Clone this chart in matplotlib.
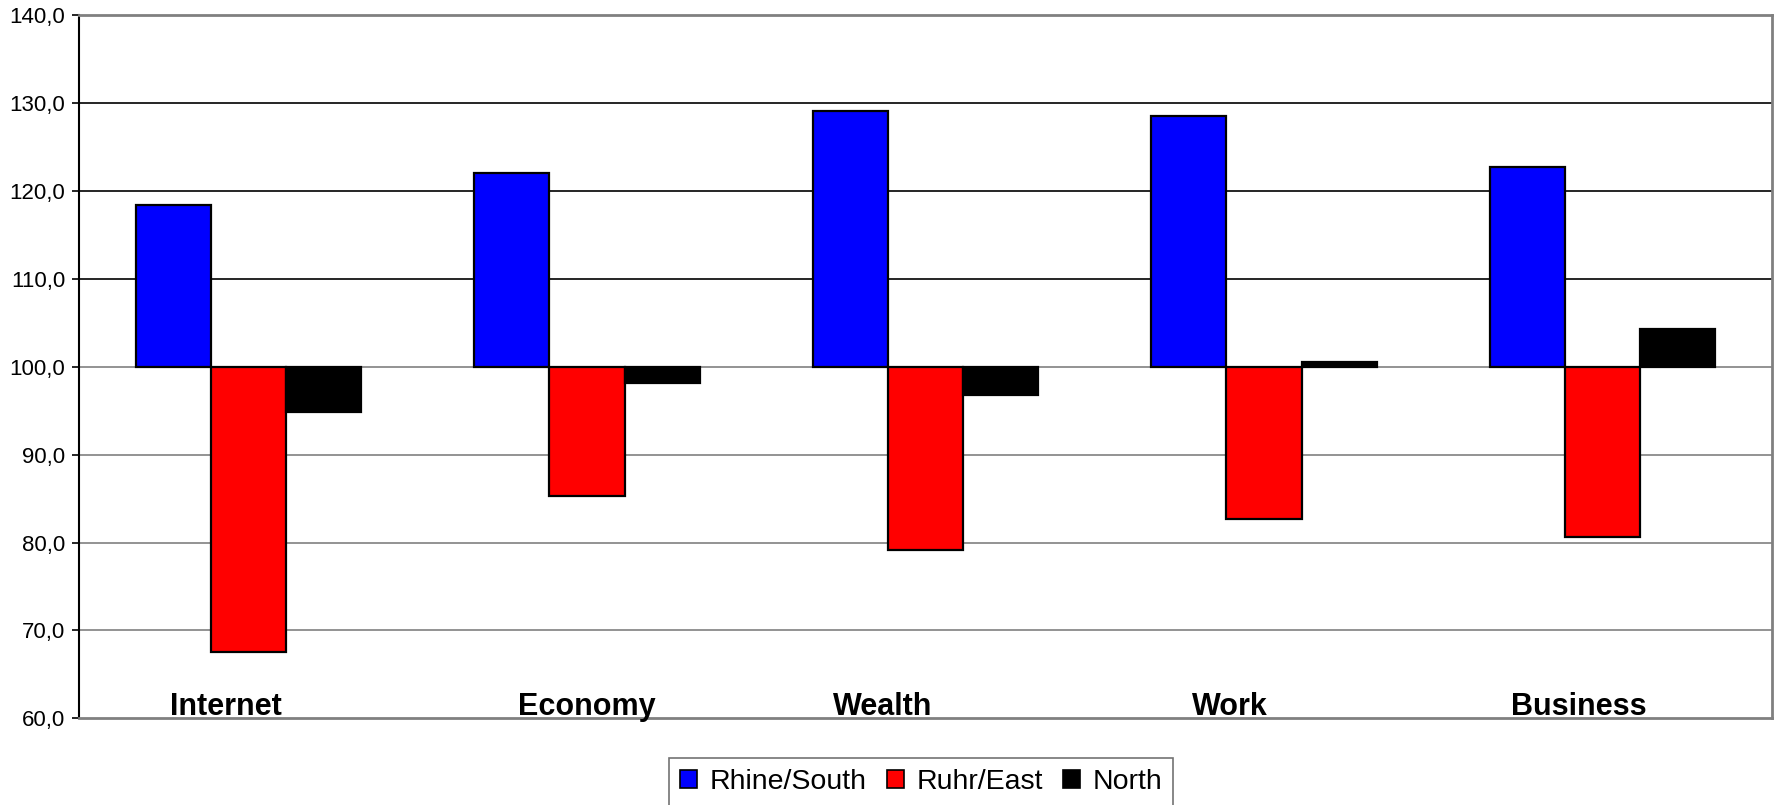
import matplotlib
matplotlib.use("Agg")
import matplotlib.pyplot as plt
from matplotlib.patches import Patch
from matplotlib.ticker import FuncFormatter, MultipleLocator

# --- data -------------------------------------------------------------
categories = ["Internet", "Economy", "Wealth", "Work", "Business"]
series_names = ["Rhine/South", "Ruhr/East", "North"]
rhine_south = [118.4, 122.0, 129.1, 128.5, 122.7]
ruhr_east = [67.6, 85.3, 79.1, 82.7, 80.6]
north = [94.8, 98.1, 96.8, 100.5, 104.3]
baseline = 100.0

# --- styling / layout -------------------------------------------------
colors = ["#0000FF", "#FF0000", "#000000"]
label_shift = [-0.066, 0.0, -0.126, -0.102, -0.070]   # category label nudges
bar_w = 1.0 / 4.5                                      # 150 % gap width

plt.rcParams["font.family"] = ["Liberation Sans", "DejaVu Sans"]

fig = plt.figure(figsize=(17.77, 8.05), dpi=100)
ax = fig.add_axes([0.0446, 0.1077, 0.9524, 0.8733])

ax.set_xlim(-0.5, len(categories) - 0.5)
ax.set_ylim(60, 140)

# gridlines: dark above the baseline, grey from the baseline down
for v in range(70, 140, 10):
    col = "#000000" if v > baseline else "#808080"
    ax.axhline(v, color=col, lw=1.2, zorder=1)

series = [rhine_south, ruhr_east, north]
for j, vals in enumerate(series):
    xs = [i + (j - 1) * bar_w for i in range(len(categories))]
    heights = [v - baseline for v in vals]
    ax.bar(xs, heights, width=bar_w, bottom=baseline, color=colors[j],
           edgecolor="#000000", linewidth=1.6, zorder=3)

for i, name in enumerate(categories):
    ax.text(i + label_shift[i], 60.4, name, ha="center", va="baseline",
            fontsize=22, fontweight="bold", color="#000000", zorder=4)

ax.yaxis.set_major_locator(MultipleLocator(10))
ax.yaxis.set_major_formatter(FuncFormatter(lambda v, p: f"{v:.1f}".replace(".", ",")))
ax.tick_params(axis="y", labelsize=16, length=5, width=1.2, pad=5, colors="#000000")
ax.set_xticks([])

ax.spines["left"].set_color("#000000")
ax.spines["left"].set_linewidth(1.5)
for s in ("top", "right", "bottom"):
    ax.spines[s].set_color("#808080")
    ax.spines[s].set_linewidth(2)

handles = [Patch(facecolor=c, edgecolor="#000000", linewidth=1.2) for c in colors]
leg = fig.legend(handles, series_names, loc="upper left",
                 bbox_to_anchor=(669 / 1777, 1 - 758 / 805),
                 ncol=3, fontsize=20.5, frameon=True, fancybox=False,
                 edgecolor="#505050", handlelength=0.6, handleheight=0.6,
                 handletextpad=0.45, columnspacing=0.7, borderpad=0.38,
                 borderaxespad=0)
leg.get_frame().set_linewidth(1.2)

fig.savefig("out.png", dpi=100, facecolor="white")
